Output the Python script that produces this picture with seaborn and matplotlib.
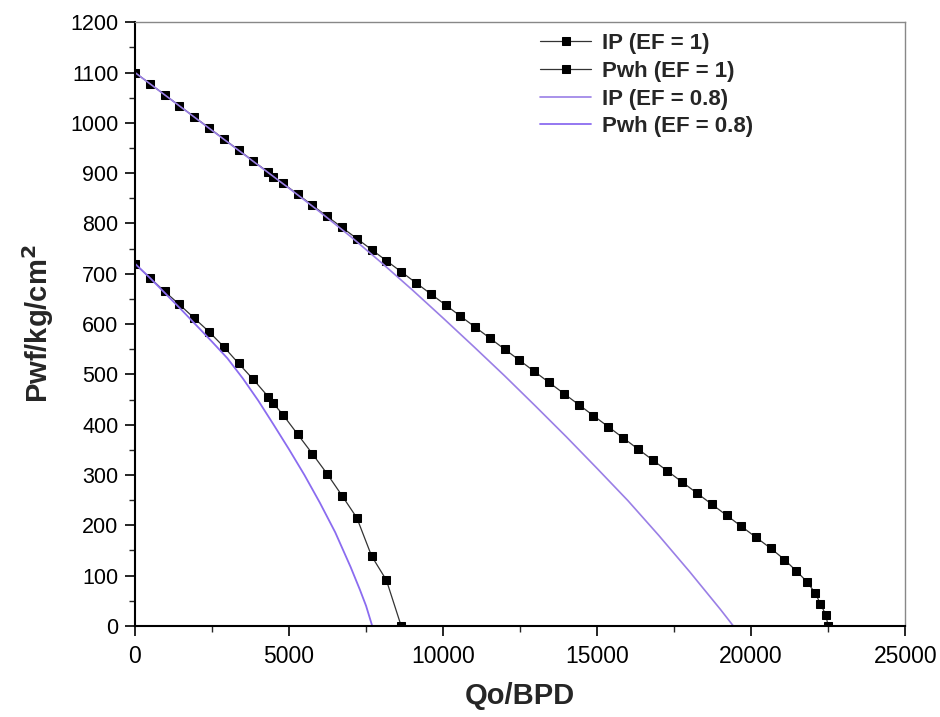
import matplotlib
matplotlib.use("Agg")
import matplotlib.pyplot as plt
from matplotlib.ticker import MultipleLocator
import numpy as np
import pandas as pd
import seaborn as sns

# IP curve, EF = 1 (black squares)
ip_ef1_q = [0, 480, 960, 1440, 1920, 2400, 2880, 3360, 3840, 4320, 4470,
            4800, 5280, 5760, 6240, 6720, 7200, 7680, 8160, 8640, 9120,
            9600, 10080, 10560, 11040, 11520, 12000, 12480, 12960, 13440,
            13920, 14400, 14880, 15360, 15840, 16320, 16800, 17280, 17760,
            18240, 18720, 19200, 19680, 20160, 20640, 21080, 21450, 21810,
            22070, 22250, 22420, 22500]
ip_ef1_p = [1100, 1078, 1056, 1034, 1012, 990, 968, 946, 924, 902, 893,
            880, 858, 836, 814, 792, 770, 748, 726, 704, 682,
            660, 638, 616, 594, 572, 550, 528, 506, 484,
            462, 440, 418, 396, 374, 352, 330, 308, 286,
            264, 242, 220, 198, 176, 154, 132, 110, 88,
            66, 44, 22, 0]

# Pwh curve, EF = 1 (black squares)
pwh_ef1_q = [0, 480, 960, 1440, 1920, 2400, 2880, 3360, 3840, 4320, 4470,
             4800, 5280, 5760, 6240, 6720, 7200, 7680, 8160, 8640]
pwh_ef1_p = [720, 692, 665, 639, 612, 585, 555, 522, 490, 456, 444,
             420, 381, 342, 302, 259, 215, 139, 91, 0]

# IP curve, EF = 0.8 (purple line)
ip_ef08_q = [0, 2000, 4000, 5000, 6000, 7000, 8000, 9000, 10000, 11000,
             12000, 13000, 14000, 15000, 16000, 17000, 18000, 19000, 19420]
ip_ef08_p = [1100, 1008, 916, 870, 823, 774, 722, 668, 612, 555,
             497, 437, 376, 313, 249, 180, 108, 33, 0]

# Pwh curve, EF = 0.8 (purple line)
pwh_ef08_q = [0, 500, 1000, 1500, 2000, 2500, 3000, 3500, 4000, 4500,
              5000, 5500, 6000, 6500, 7000, 7300, 7500, 7700]
pwh_ef08_p = [720, 691, 660, 629, 597, 565, 532, 492, 448, 400,
              351, 300, 245, 186, 117, 72, 40, 0]

sns.set_style("ticks")
plt.rcParams["font.family"] = ["Liberation Sans", "DejaVu Sans"]

fig = plt.figure(figsize=(9.4, 7.17), dpi=100)
ax = fig.add_axes([0.1436, 0.127, 0.8194, 0.842])

sns.lineplot(x=ip_ef1_q, y=ip_ef1_p, sort=False, ax=ax, color="#333333",
             linewidth=0.9, marker="s", markersize=5.5, markeredgecolor="black",
             markerfacecolor="black", label="IP (EF = 1)")
sns.lineplot(x=pwh_ef1_q, y=pwh_ef1_p, sort=False, ax=ax, color="#333333",
             linewidth=0.9, marker="s", markersize=5.5, markeredgecolor="black",
             markerfacecolor="black", label="Pwh (EF = 1)")
sns.lineplot(x=ip_ef08_q, y=ip_ef08_p, sort=False, ax=ax, color="#9a7fe6",
             linewidth=1.2, label="IP (EF = 0.8)")
sns.lineplot(x=pwh_ef08_q, y=pwh_ef08_p, sort=False, ax=ax, color="#8b6cf0",
             linewidth=1.3, label="Pwh (EF = 0.8)")

ax.set_xlim(0, 25000)
ax.set_ylim(0, 1200)
ax.xaxis.set_major_locator(MultipleLocator(5000))
ax.xaxis.set_minor_locator(MultipleLocator(2500))
ax.yaxis.set_major_locator(MultipleLocator(100))
ax.yaxis.set_minor_locator(MultipleLocator(50))
ax.tick_params(which="major", direction="out", length=7, width=1.2,
               colors="black")
ax.tick_params(axis="x", which="major", labelsize=16.5, pad=7)
ax.tick_params(axis="y", which="major", labelsize=15.5, pad=5)
ax.tick_params(which="minor", direction="out", length=4, width=1.0)

for side in ["left", "bottom"]:
    ax.spines[side].set_linewidth(1.5)
    ax.spines[side].set_color("black")
for side in ["top", "right"]:
    ax.spines[side].set_visible(True)
    ax.spines[side].set_linewidth(1.0)
    ax.spines[side].set_color("#888888")

ax.set_xlabel("Qo/BPD", fontsize=21, fontweight="bold", labelpad=10)
ax.set_ylabel("Pwf/kg/cm$^\\mathbf{2}$", fontsize=21, fontweight="bold", labelpad=10)

leg = ax.legend(loc="upper left", bbox_to_anchor=(0.5, 1.015), frameon=False,
                prop={"size": 16, "weight": "bold"}, handlelength=2.3,
                labelspacing=0.3, handletextpad=0.5)

fig.savefig("out.png", dpi=100)
